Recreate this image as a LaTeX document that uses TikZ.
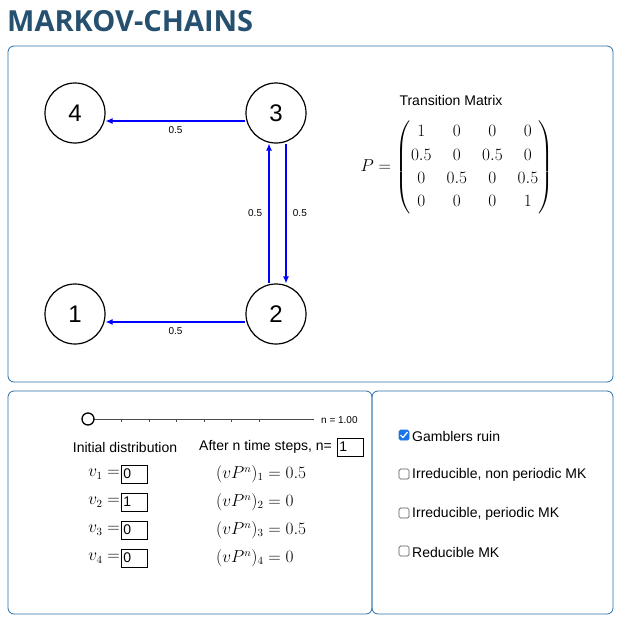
\documentclass[tikz,border=0pt]{standalone}
\usepackage{amsmath}
\usepackage{fontspec}
\setmainfont{Liberation Sans}
\newfontfamily\titlefont{Open Sans}
\usetikzlibrary{arrows.meta}
\definecolor{titleblue}{HTML}{25506F}
\definecolor{panelblue}{HTML}{2A6FA8}
\definecolor{chkblue}{HTML}{1A73E8}
\tikzset{
  panel/.style={draw=panelblue,rounded corners=6pt,line width=0.8pt},
  state/.style={draw,circle,line width=1.2pt,minimum size=60pt,inner sep=0pt,font=\fontsize{24}{24}\selectfont},
  trans/.style={blue,line width=1.2pt,-{Latex[length=7pt,width=6pt]}},
  plab/.style={black,font=\fontsize{10}{10}\selectfont},
  txt/.style={font=\fontsize{14}{16}\selectfont,inner sep=0pt},
  mtxt/.style={font=\fontsize{16}{18}\selectfont,inner sep=0pt},
  inbox/.style={draw,line width=0.6pt,minimum width=26pt,minimum height=18pt,inner sep=1pt,anchor=west,text width=22pt,font=\fontsize{14}{14}\selectfont},
  chk/.style={draw=gray!70!black,line width=0.7pt,rounded corners=1.5pt,minimum size=10pt,inner sep=0pt},
}
\begin{document}
\begin{tikzpicture}[x=1pt,y=-1pt]
\useasboundingbox (0,0) rectangle (621,621);
\node[anchor=west,inner sep=0pt,text=titleblue,font=\titlefont\bfseries\fontsize{29}{29}\selectfont] (title) at (7,21) {MARKOV-CHAINS};
\draw[panel] (8,46) rectangle (613,382);
\node[state] (s4) at (75,113) {4};
\node[state] (s3) at (276,113) {3};
\node[state] (s1) at (75,314) {1};
\node[state] (s2) at (276,314) {2};
\draw[trans] ([yshift=-8pt]s3.west) -- node[plab,below=2pt]{0.5} ([yshift=-8pt]s4.east);
\draw[trans] ([yshift=-8pt]s2.west) -- node[plab,below=2pt]{0.5} ([yshift=-8pt]s1.east);
\draw[trans] ([xshift=10pt]s3.south) -- node[plab,right=3pt]{0.5} ([xshift=10pt]s2.north);
\draw[trans] ([xshift=-7pt]s2.north) -- node[plab,left=3pt]{0.5} ([xshift=-7pt]s3.south);
\node[txt] (tm) at (451,100) {Transition Matrix};
\node[inner sep=0pt,font=\fontsize{16}{19}\selectfont] (mat) at (457,167) {\renewcommand{\arraystretch}{1.22}\setlength{\arraycolsep}{7.5pt}$P=\begin{pmatrix}1&0&0&0\\0.5&0&0.5&0\\0&0.5&0&0.5\\0&0&0&1\end{pmatrix}$};
\draw[panel] (8,391) rectangle (372,614);
\draw[panel] (372,391) rectangle (613,614);
\draw[gray!60!black,line width=0.6pt] (94,419) coordinate (sl0) -- (314,419) coordinate (sl1);
\foreach \i in {1,...,6}{\draw[gray!60!black] (94+\i*27.5,419) -- (94+\i*27.5,421.5);}
\node[draw,circle,line width=1.3pt,fill=white,minimum size=12pt,inner sep=0pt] (knob) at (88,419) {};
\node[plab,anchor=west,inner sep=0pt] (nlab) at (321,420) {n = 1.00};
\node[txt] (init) at (125,447) {Initial distribution};
\node[txt,anchor=west] (after) at (199,447) {After n time steps, n=};
\node[inbox] (nbox) at (337,447) {1};
\foreach \k/\y/\v/\r in {1/474/0/0.5,2/502/1/0,3/530/0/0.5,4/558/0/0}{
  \node[mtxt,anchor=east] (vl\k) at (120,\y) {$v_{\k}=$};
  \node[inbox] (vb\k) at (121,\y) {\v};
  \node[mtxt,anchor=west] (r\k) at (216,\y) {$(vP^n)_{\k}=\r$};
}
\node[chk,fill=chkblue,draw=chkblue] (c1) at (404,435) {};
\draw[white,line width=1.3pt] (400.5,435) -- (403,437.5) -- (407.5,432);
\node[txt,anchor=west] (t1) at (412,436) {Gamblers ruin};
\foreach \k/\y/\t in {2/474/{Irreducible, non periodic MK},3/513/{Irreducible, periodic MK},4/551/{Reducible MK}}{
  \node[chk] (c\k) at (404,\y) {};
  \node[txt,anchor=west] (t\k) at (412,\y+1) {\t};
}
\end{tikzpicture}
\end{document}
